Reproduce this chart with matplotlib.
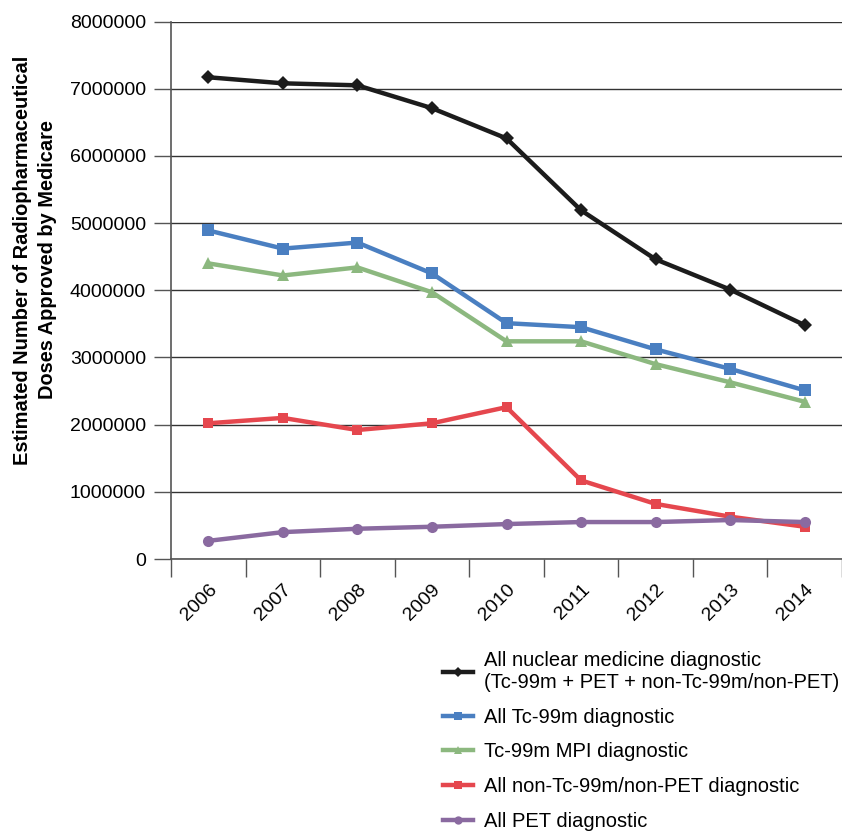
import matplotlib
matplotlib.use("Agg")
import matplotlib.pyplot as plt
import numpy as np

years = ["2006", "2007", "2008", "2009", "2010", "2011", "2012", "2013", "2014"]

all_nuclear = [7170000, 7080000, 7050000, 6710000, 6260000, 5190000, 4460000, 4010000, 3480000]
all_tc99m = [4890000, 4620000, 4710000, 4250000, 3510000, 3450000, 3120000, 2830000, 2510000]
tc99m_mpi = [4400000, 4220000, 4340000, 3970000, 3240000, 3240000, 2900000, 2630000, 2340000]
non_tc_non_pet = [2020000, 2100000, 1920000, 2020000, 2260000, 1170000, 820000, 630000, 480000]
all_pet = [270000, 400000, 450000, 480000, 520000, 550000, 550000, 580000, 550000]

labels = [
    "All nuclear medicine diagnostic\n(Tc-99m + PET + non-Tc-99m/non-PET)",
    "All Tc-99m diagnostic",
    "Tc-99m MPI diagnostic",
    "All non-Tc-99m/non-PET diagnostic",
    "All PET diagnostic",
]
yticks = [0, 1000000, 2000000, 3000000, 4000000, 5000000, 6000000, 7000000, 8000000]

plt.rcParams["font.family"] = ["Liberation Sans", "DejaVu Sans"]

W, H = 842, 834
fig = plt.figure(figsize=(W / 100, H / 100), dpi=100)
left_px, right_px, top_px, bot_px = 171, 842, 21.5, 559
ax = fig.add_axes([left_px / W, 1 - bot_px / H, (right_px - left_px) / W, (bot_px - top_px) / H])

x = np.arange(len(years))
cat_w = 75.6
ax.set_xlim(-0.5, -0.5 + (right_px - left_px) / cat_w)
ax.set_ylim(0, 8000000)

series = [
    (all_nuclear, "#1c1c1c", "D", 7),
    (all_tc99m, "#4a7fc1", "s", 8),
    (tc99m_mpi, "#8cb87f", "^", 8),
    (non_tc_non_pet, "#e5474e", "s", 7),
    (all_pet, "#8a6aa0", "o", 8),
]
handles = []
for vals, col, mk, ms in series:
    h, = ax.plot(x, vals, color=col, lw=3.2, marker=mk, markersize=ms,
                 markeredgewidth=0, zorder=3, clip_on=False)
    handles.append(h)

ax.set_yticks(yticks)
ax.set_yticklabels([str(v) for v in yticks], fontsize=14)
ax.yaxis.grid(True, color="#333333", lw=1.0)
ax.set_axisbelow(True)
ax.tick_params(axis="y", length=12, width=1.0, color="#555555", pad=6)

ax.set_xticks(x)
ax.set_xticklabels(years, rotation=45, ha="right", rotation_mode="anchor", fontsize=14)
ax.set_xticks(np.arange(-0.5, len(years), 1.0), minor=True)
ax.tick_params(axis="x", which="major", length=0, pad=16)
ax.tick_params(axis="x", which="minor", length=13, width=1.0, color="#555555")

for s in ["top", "right"]:
    ax.spines[s].set_visible(False)
for s in ["left", "bottom"]:
    ax.spines[s].set_color("#555555")
    ax.spines[s].set_linewidth(1.2)

fig.text(35 / W, 1 - 260 / H,
         "Estimated Number of Radiopharmaceutical\nDoses Approved by Medicare",
         rotation=90, ha="center", va="center", fontsize=14.4, fontweight="bold",
         linespacing=1.45)

fig.legend(handles, labels, loc="upper left", bbox_to_anchor=(435 / W, 1 - 643 / H),
           frameon=False, fontsize=14.5, handlelength=1.5, handletextpad=0.55,
           labelspacing=0.78, borderaxespad=0, markerscale=0.75)

fig.savefig("out.png", dpi=100)
